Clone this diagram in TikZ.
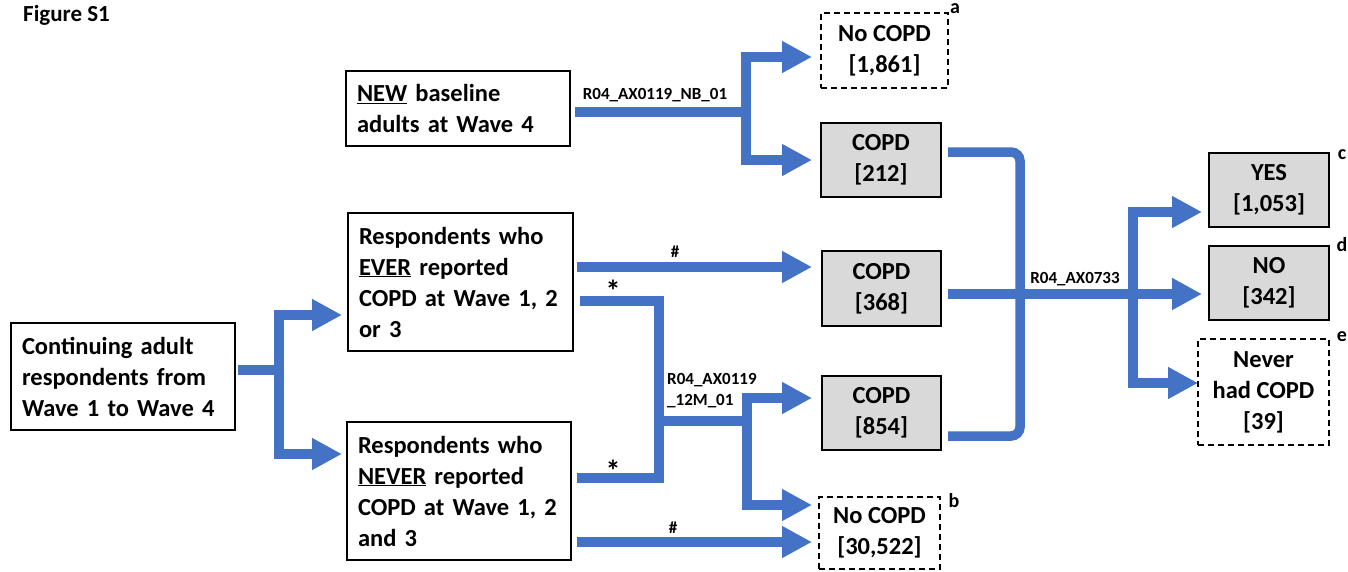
\documentclass[tikz,border=0pt]{standalone}
\usepackage{fontspec}
\setmainfont{Carlito}
\usetikzlibrary{arrows.meta,calc}
\definecolor{flowblue}{HTML}{4472C4}
\definecolor{boxgray}{HTML}{D9D9D9}
\begin{document}
\begin{tikzpicture}[x=1pt,y=-1pt,
  box/.style={draw=black,line width=2.4pt,inner sep=0pt,outer sep=0pt,
    font=\bfseries\fontsize{24.5}{31}\selectfont},
  lbox/.style={box,align=left,text width=#1},
  gbox/.style={box,fill=boxgray,align=center},
  dbox/.style={box,dash pattern=on 6pt off 4pt,align=center},
  flow/.style={draw=flowblue,line width=9.5pt},
  arr/.style={flow,-{Triangle[length=30pt,width=30pt]}},
  lab/.style={font=\bfseries\fontsize{17}{21}\selectfont,inner sep=0pt},
  star/.style={font=\bfseries\fontsize{30}{30}\selectfont,inner sep=0pt},
  tag/.style={font=\bfseries\fontsize{20}{24}\selectfont,inner sep=0pt}]
\useasboundingbox (0,0) rectangle (1348,571);

\node[font=\bfseries\fontsize{23}{27}\selectfont,inner sep=0pt,anchor=base west] (fig) at (23,21) {Figure S1};

% boxes
\node[lbox=202,minimum width=224,minimum height=107] (cont) at (123,376.5)
  {\mbox{Continuing adult}\\\mbox{respondents from}\\\mbox{Wave 1 to Wave 4}};
\node[lbox=202,minimum width=224,minimum height=75] (new) at (458,108.5)
  {\underline{NEW} baseline\\\mbox{adults at Wave 4}};
\node[lbox=203,minimum width=225,minimum height=138] (ever) at (460.5,282)
  {\mbox{Respondents who}\\\underline{EVER} reported\\\mbox{COPD at Wave 1, 2}\\or 3};
\node[lbox=202,minimum width=224,minimum height=138] (nev) at (459,491)
  {\mbox{Respondents who}\\\mbox{\underline{NEVER} reported}\\\mbox{COPD at Wave 1, 2}\\and 3};

\node[dbox,minimum width=127,minimum height=75] (noa) at (884.5,50.5) {No COPD\\{}[1,861]};
\node[gbox,minimum width=120,minimum height=74] (c212) at (881,160) {COPD\\{}[212]};
\node[gbox,minimum width=119,minimum height=75] (c368) at (881.5,288.5) {COPD\\{}[368]};
\node[gbox,minimum width=119,minimum height=74] (c854) at (881.5,413) {COPD\\{}[854]};
\node[dbox,minimum width=121,minimum height=72] (nob) at (879.5,533) {No COPD\\{}[30,522]};

\node[gbox,minimum width=120,minimum height=74] (yes) at (1269,190) {YES\\{}[1,053]};
\node[gbox,minimum width=120,minimum height=74] (no) at (1269,283) {NO\\{}[342]};
\node[dbox,minimum width=131,minimum height=106] (nhc) at (1263.5,392) {Never\\had COPD\\{}[39]};

\node[tag] (ta) at (955,9) {a};
\node[tag] (tb) at (954,501) {b};
\node[tag] (tc) at (1342,155) {c};
\node[tag] (td) at (1342,245) {d};
\node[tag] (te) at (1342,337) {e};

% connectors
\coordinate (jl) at (279,370);
\draw[flow] (238,370) -- (jl);
\draw[arr] (jl) |- (342,315);
\draw[arr] (jl) |- (342,454);

\coordinate (ja) at (746,112);
\draw[flow] (575,112) -- (ja);
\draw[arr] (ja) |- (812,57);
\draw[arr] (ja) |- (812,160);
\node[lab] (lnb) at (655,95) {R04\_AX0119\_NB\_01};

\draw[arr] (577,267) -- (812,267);
\node[lab] (h1) at (675,252) {\#};
\draw[flow] (580,301) -| (659,478) -- (577,478);
\node[star] (s1) at (613,291) {*};
\node[star] (s2) at (613,471) {*};
\coordinate (jm) at (747,421);
\draw[flow] (659,421) -- (jm);
\draw[arr] (jm) |- (812,398);
\draw[arr] (jm) |- (812,505);
\node[lab,anchor=west,align=left] (l12) at (667,391) {R04\_AX0119\\\_12M\_01};
\draw[arr] (577,542) -- (812,542);
\node[lab] (h2) at (673,528) {\#};

\draw[flow,rounded corners=9pt] (948,152) -- (1020,152) -- (1020,436) -- (948,436);
\coordinate (jr) at (1133,294);
\draw[flow] (948,294) -- (jr);
\draw[arr] (jr) |- (1202,212);
\draw[arr] (jr) -- (1202,294);
\draw[arr] (jr) |- (1198,383);
\node[lab] (l733) at (1075,279) {R04\_AX0733};
\end{tikzpicture}
\end{document}
